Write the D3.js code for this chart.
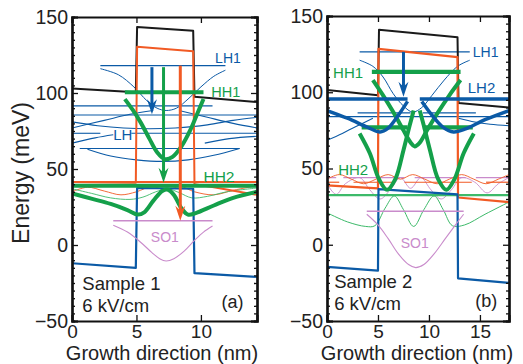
<!DOCTYPE html>
<html>
<head>
<meta charset="utf-8">
<script src="https://cdn.jsdelivr.net/npm/d3@7/dist/d3.min.js"></script>
<style>
  html, body { margin: 0; padding: 0; background: #fff; }
  svg { display: block; }
  text { font-family: "Liberation Sans", Arial, Helvetica, sans-serif; }
</style>
</head>
<body>
<svg id="chart" width="523" height="364"></svg>
<script>
// ---------------- DATA ----------------
const yTicks = [-50, 0, 50, 100, 150];
const aXTicks = [0, 5, 10];
const bXTicks = [0, 5, 10, 15];
const aXMax = 14.35;
const bXMax = 17.85;

// Panel (a) – band edges [x nm, E meV]
const aBlack  = [[0,103],[4.95,100.5],[5.05,143.5],[9.4,141],[9.5,97.5],[14.35,94]];
const aOrange = [[0,41.5],[4.95,41],[5.05,130.5],[9.4,127.5],[9.5,40],[11,38],[14.35,33]];
const aBlue   = [[0,-12],[4.95,-15],[5.05,37.5],[9.4,37],[9.5,-18.5],[14.35,-21]];
// levels [x0, x1, E]
const aLH1 = [2.2, 11.9, 118];
const aHH1 = [4.1, 10.2, 100.5];
const aHH2 = [0, 14.35, 39];
const aSO1 = [3.2, 10.9, 16];
const aOrangeLevel = [0, 14.35, 41.5];
const aLHLevels = [[0,10.9,91.5],[0,14.35,85.5],[0,2.2,73.5],[4.6,14.35,73.5],[0.6,13,63.5]];
// wavefunctions
const aLH1Wave = [[2.2,116],[3.6,112],[4.8,104],[5.8,95],[6.6,90],[7.3,88.5],[8.1,90],[9,96],[10,104],[11,111],[11.9,115]];
const aLHc1 = [[0,77],[2.5,82],[4.5,86],[6.3,88.5]];
const aLHc2 = [[8.3,88.5],[10.5,84],[12.5,80],[14.35,77]];
const aLHc3 = [[0,81],[2,78.5],[4,77],[6,76.5],[8,77],[10.5,79],[12.5,82],[14.35,84]];
const aLHc4 = [[1.2,63],[3,58.5],[5,56],[7,55],[9,56],[11,59],[13,63.5]];
const aLHc5 = [[10.3,67],[12.2,70],[14.35,71.5]];
const aLHc6 = [[0,67],[1.8,70.5],[3.2,72.5]];
const aHH1Wave = [[4.1,96],[4.7,89],[5.3,81],[6,70],[6.6,61],[7.2,56.5],[7.8,58],[8.5,65],[9.2,76],[9.7,86],[10.2,96]];
const aHH2Wave = [[0,34],[1.5,30.5],[3,27],[4.3,23],[5.1,20],[5.6,21.5],[6.3,29],[7,35.5],[7.4,36.5],[7.9,33],[8.5,24],[9,20],[9.6,21],[11,26],[12.5,31],[14.35,35]];
const aGreenThin = [[0,37],[1.5,34],[3,31],[4.5,30],[5.5,31.5],[6.5,35],[7.4,37],[8.3,34.5],[9.3,31],[10.5,32],[12,35],[14.35,37.5]];
const aOrangeThin = [[0,35],[1.2,38],[2.5,35.5],[3.8,33],[5,35],[6.2,38.5],[7.3,36],[8.4,38.5],[9.5,35],[11,33],[12.5,36],[14.35,39]];
const aSO1Wave = [[3.2,13],[4.3,8.5],[5.3,2],[6.2,-5],[6.8,-9],[7.3,-10.5],[7.9,-9],[8.7,-4],[9.5,3],[10.2,8.5],[10.9,12.5]];
// arrows [x, E start, E end]
const aArrowBlue = [6.2, 117, 86];
const aArrowGreen = [7.1, 117, 41];
const aArrowOrange = [8.4, 118, 16];

// Panel (b)
const bBlack  = [[0,101.5],[5,98],[5.1,141],[12.8,136],[12.9,93],[17.85,90]];
const bOrange = [[0,39],[5,37],[5.05,128.5],[12.8,123],[12.85,31],[17.85,28]];
const bBlue   = [[0,-14.5],[5,-17],[5.05,36.5],[12.8,33],[12.85,-22],[17.85,-25]];
const bLH1 = [3.2, 14.0, 126.5];
const bLH2 = [[0, 7.9, 95.5], [9.1, 17.85, 95.5]];
const bHH1 = [4.4, 13.1, 113.3];
const bHH2 = [[3.4, 7.9, 77], [9.4, 14.3, 77]];
const bSO1 = [3.9, 13.4, 22];
const bLHLevels = [[0,17.85,84],[3,8.2,86.5],[9.4,14.6,86.5]];
const bGreenLevel = [0, 17.85, 32.6];
const bPinkLevels = [[0,0.9,44],[1.6,7.6,44],[8.6,13.6,44],[14.6,17.85,44]];
const bOrangeLevels = [[0,1.2,41],[2.6,6.6,41],[7.6,14.2,41],[15.6,17.85,41]];
const bLH1Wave = [[3.2,121],[4.5,117],[5.5,110],[6.5,99],[7.5,91],[8.4,87],[9.3,90],[10.3,98],[11.5,108],[12.8,117],[14,121]];
const bLH2WaveL = [[0,88],[2,83],[4,77],[5.2,74],[6,76.5],[7,85],[7.9,94]];
const bLH2WaveR = [[9.3,94],[10.3,85],[11.4,77],[12.4,74],[13.6,76],[15.5,82],[17.85,88]];
const bLHc1 = [[0,68.5],[1.5,73],[3,78],[4.5,83]];
const bLHc2 = [[12.9,83],[14.5,80.5],[16,79],[17.85,78]];
const bHH1Wave = [[4.5,108],[5.5,98],[6.5,87],[7.5,75],[8.2,67],[8.6,64.5],[9.1,67],[9.8,75],[10.9,87],[12,98],[13.1,108]];
const bHH2WaveL = [[3.2,73],[4.2,60],[5.1,43],[5.9,36],[6.7,43],[7.5,62],[8.1,78],[8.5,88]];
const bHH2WaveR = [[9.1,88],[9.5,78],[10.1,62],[10.9,43],[11.7,36],[12.5,43],[13.4,60],[14.4,73]];
const bGreenThin = [[0,21],[2,15],[3.8,12],[4.7,12.5],[5.7,24],[6.6,32],[7.5,23],[8.5,12],[9.5,23],[10.5,32],[11.4,23],[12.3,12.5],[13.5,13],[15.5,20],[17.85,28]];
const bPinkThin = [[0,40],[0.9,33],[1.8,40],[3.2,44],[4.2,36],[5.2,30],[6.2,36],[7.2,44],[8.2,37],[9.2,44],[10.2,36],[11.2,30],[12.2,36],[13.2,44],[14.5,41],[15.7,34],[16.8,40],[17.85,44]];
const bOrangeThin = [[0,43],[1.2,46],[2.4,43],[3.6,40],[4.8,43],[6,46],[7.2,43],[8.4,46],[9.6,43],[10.8,40],[12,43],[13.2,46],[14.4,43],[15.6,40],[16.8,43],[17.85,46]];
const bSO1Wave = [[3.9,20],[5,13],[6,4],[7,-6],[8,-13],[8.7,-15],[9.5,-13],[10.5,-6],[11.6,4],[12.6,13],[13.4,20]];
const bArrowBlue = [7.5, 126.5, 97];

// ---------------- DRAWING ----------------
const C = { black:"#1a1a1a", orange:"#f15a24", blue:"#0b5aa6", green:"#14a04a", pink:"#c98bcb", lgreen:"#3dba6a" };
const svg = d3.select("#chart");

function panel(opt) {
  const x = d3.scaleLinear().domain([0, opt.xMax]).range(opt.xr);
  const y = d3.scaleLinear().domain([-50, 150]).range(opt.yr);
  const g = svg.append("g");
  const clipId = "clip" + opt.id;
  svg.append("clipPath").attr("id", clipId).append("rect")
    .attr("x", opt.xr[0]).attr("y", opt.yr[1]).attr("width", opt.xr[1]-opt.xr[0]).attr("height", opt.yr[0]-opt.yr[1]);
  const p = g.append("g").attr("clip-path", `url(#${clipId})`);
  const lineL = d3.line().x(d => x(d[0])).y(d => y(d[1]));
  const lineC = d3.line().x(d => x(d[0])).y(d => y(d[1])).curve(d3.curveCatmullRom.alpha(0.5));
  const path = (data, color, w, smooth) => p.append("path").datum(data).attr("d", smooth ? lineC : lineL)
      .attr("fill", "none").attr("stroke", color).attr("stroke-width", w)
      .attr("stroke-linejoin", "round").attr("stroke-linecap", "butt");
  const level = (lv, color, w) => p.append("line")
    .attr("x1", x(lv[0])).attr("x2", x(lv[1])).attr("y1", y(lv[2])).attr("y2", y(lv[2]))
    .attr("stroke", color).attr("stroke-width", w);
  const arrow = (a, color, w) => {
    const xx = x(a[0]), y0 = y(a[1]), y1 = y(a[2]);
    p.append("line").attr("x1", xx).attr("x2", xx).attr("y1", y0).attr("y2", y1 - 6)
      .attr("stroke", color).attr("stroke-width", w);
    p.append("path")
      .attr("d", `M${xx},${y1} L${xx-5},${y1-15} L${xx},${y1-10} L${xx+5},${y1-15} Z`)
      .attr("fill", color);
  };
  opt.draw({ x, y, p, path, level, arrow });

  const ax = g.append("g");
  const mkAxis = (gen, tr, vals, size, labels, pad) => {
    const a = ax.append("g").attr("transform", tr)
      .call(gen.tickValues(vals).tickSize(size).tickPadding(pad || 0)
        .tickFormat(labels ? (d => d < 0 ? "\u2212" + Math.abs(d) : d) : ""));
    a.select(".domain").attr("stroke", "#111").attr("stroke-width", 2.2);
    a.selectAll(".tick line").attr("stroke", "#111").attr("stroke-width", 1.3);
    a.selectAll(".tick text").attr("font-size", 19.5).attr("fill", "#222");
    return a;
  };
  const minorY = d3.range(-50, 151, 5).filter(v => v % 50 !== 0);
  const L = `translate(${opt.xr[0]},0)`, R = `translate(${opt.xr[1]},0)`;
  const B = `translate(0,${opt.yr[0]})`, T = `translate(0,${opt.yr[1]})`;
  mkAxis(d3.axisLeft(y), L, minorY, -3, false);
  mkAxis(d3.axisRight(y), R, minorY, -3, false);
  mkAxis(d3.axisLeft(y), L, yTicks, -6, true, 4);
  mkAxis(d3.axisRight(y), R, yTicks, -6, false);
  const ba = mkAxis(d3.axisBottom(x), B, opt.xTicks, -6, true, 4);
  ba.selectAll(".tick text").attr("font-size", 19);
  mkAxis(d3.axisTop(x), T, opt.xTicks, -6, false);

  g.append("text").attr("x", opt.titleX).attr("y", 359.5).attr("text-anchor", "middle")
    .attr("font-size", 20).attr("fill", "#222").text("Growth direction (nm)");
  return { x, y, g };
}

function label(ctx, t, xv, yv, color, size, anchor) {
  ctx.g.append("text").attr("x", ctx.x(xv)).attr("y", ctx.y(yv)).attr("fill", color)
    .attr("font-size", size).attr("text-anchor", anchor || "start").text(t);
}

const A = panel({
  id: "a", xMax: aXMax, xr: [72, 257], yr: [321, 17], xTicks: aXTicks, titleX: 162,
  draw: ({ path, level, arrow }) => {
    aLHLevels.forEach(l => level(l, C.blue, 1.1));
    [aLHc1, aLHc2, aLHc3, aLHc4, aLHc5, aLHc6].forEach(c => path(c, C.blue, 1.1, true));
    path(aLH1Wave, C.blue, 1, true);
    level(aLH1, C.blue, 1.2);
    path(aOrangeThin, C.orange, 0.9, true);
    path(aGreenThin, C.lgreen, 0.9, true);
    path(aBlack, C.black, 2);
    path(aOrange, C.orange, 2);
    level(aOrangeLevel, C.orange, 2);
    path(aBlue, C.blue, 2.2);
    path(aSO1Wave, C.pink, 1.1, true);
    level(aSO1, C.pink, 1.6);
    level(aHH2, C.green, 4);
    path(aHH2Wave, C.green, 4, true);
    path(aHH1Wave, C.green, 4, true);
    level(aHH1, C.green, 4.2);
    arrow(aArrowBlue, C.blue, 3);
    arrow(aArrowGreen, C.green, 3);
    arrow(aArrowOrange, C.orange, 3);
  }
});

const Bp = panel({
  id: "b", xMax: bXMax, xr: [327, 509], yr: [321, 16], xTicks: bXTicks, titleX: 417,
  draw: ({ path, level, arrow }) => {
    bLHLevels.forEach(l => level(l, C.blue, 1.1));
    path(bLHc1, C.blue, 1.1, true);
    path(bLHc2, C.blue, 1.1, true);
    path(bLH1Wave, C.blue, 1, true);
    level(bLH1, C.blue, 1.2);
    bPinkLevels.forEach(l => level(l, C.pink, 1.2));
    path(bPinkThin, C.pink, 0.9, true);
    bOrangeLevels.forEach(l => level(l, C.orange, 1.2));
    path(bOrangeThin, C.orange, 0.9, true);
    path(bGreenThin, C.lgreen, 1, true);
    level(bGreenLevel, C.lgreen, 2.2);
    path(bBlack, C.black, 2);
    path(bOrange, C.orange, 2.2);
    path(bBlue, C.blue, 2.2);
    path(bSO1Wave, C.pink, 1.1, true);
    level(bSO1, C.pink, 1.6);
    path(bHH2WaveL, C.green, 4, true);
    path(bHH2WaveR, C.green, 4, true);
    bHH2.forEach(l => level(l, C.green, 4.2));
    path(bHH1Wave, C.green, 4, true);
    level(bHH1, C.green, 4.2);
    path(bLH2WaveL, C.blue, 3.5, true);
    path(bLH2WaveR, C.blue, 3.5, true);
    bLH2.forEach(l => level(l, C.blue, 3.5));
    arrow(bArrowBlue, C.blue, 3);
  }
});

// labels panel (a)
label(A, "LH1", 11.1, 119.7, C.blue, 14);
label(A, "HH1", 10.8, 97.4, C.green, 14.5);
label(A, "LH", 3.2, 69, C.blue, 15);
label(A, "HH2", 10.2, 41.4, C.green, 15.5);
label(A, "SO1", 7.2, 2, C.pink, 14, "middle");
label(A, "Sample 1", 0.8, -29.6, "#222", 18.5);
label(A, "6 kV/cm", 0.8, -44, "#222", 18.5);
label(A, "(a)", 13.3, -41.4, "#222", 18, "end");
// labels panel (b)
label(Bp, "LH1", 14.3, 123, C.blue, 14);
label(Bp, "HH1", 0.6, 109.3, C.green, 15);
label(Bp, "LH2", 13.8, 99.5, C.blue, 15);
label(Bp, "HH2", 1.1, 45.7, C.green, 15);
label(Bp, "SO1", 8.6, -2, C.pink, 14, "middle");
label(Bp, "Sample 2", 0.7, -28.4, "#222", 18.5);
label(Bp, "6 kV/cm", 0.7, -42.8, "#222", 18.5);
label(Bp, "(b)", 16.7, -40.8, "#222", 18, "end");

// y title
svg.append("text").attr("transform", "translate(29,173) rotate(-90)").attr("text-anchor", "middle")
  .attr("font-size", 23).attr("fill", "#222").text("Energy (meV)");
</script>
</body>
</html>
